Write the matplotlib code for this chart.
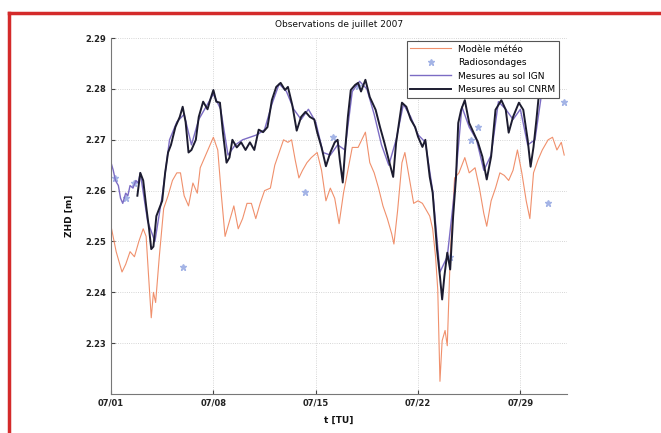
"""
Observations de juillet 2007 : ZHD modèle météo / radiosondages / mesures au sol
"""
import matplotlib
matplotlib.use('Agg')
import matplotlib.pyplot as plt
from matplotlib.lines import Line2D

plt.rcParams['font.family'] = ['DejaVu Sans']

# jours depuis le 01/07 00h TU
TICK_DAYS = [0, 7, 14, 21, 28]
TICK_LABELS = ['07/01', '07/08', '07/15', '07/22', '07/29']

# Modèle météo
model_t = [0.0, 0.35, 0.75, 1.0, 1.3, 1.6, 1.9, 2.2, 2.4, 2.55, 2.75, 2.9, 3.05, 3.3, 3.6,
           3.9, 4.2, 4.5, 4.75, 5.0, 5.3, 5.6, 5.9, 6.1, 6.4, 6.7, 7.0, 7.3, 7.55, 7.8,
           8.1, 8.4, 8.7, 9.0, 9.3, 9.6, 9.9, 10.2, 10.5, 10.9, 11.2, 11.5, 11.8, 12.1,
           12.35, 12.6, 12.85, 13.1, 13.4, 13.7, 14.1, 14.4, 14.7, 15.0, 15.3, 15.6, 15.9,
           16.2, 16.5, 16.9, 17.4, 17.7, 18.0, 18.3, 18.6, 18.9, 19.2, 19.35, 19.6, 19.9,
           20.1, 20.4, 20.7, 21.0, 21.3, 21.8, 22.0, 22.2, 22.35, 22.5, 22.65, 22.85, 23.0,
           23.2, 23.5, 23.8, 24.2, 24.5, 24.9, 25.2, 25.5, 25.7, 26.0, 26.3, 26.6, 26.9,
           27.2, 27.5, 27.8, 28.1, 28.4, 28.65, 28.9, 29.2, 29.5, 29.9, 30.2, 30.5, 30.8, 31.0]
model_zhd = [2.2530, 2.2480, 2.2440, 2.2455, 2.2480, 2.2470, 2.2500, 2.2525, 2.2510, 2.2440,
             2.2350, 2.2400, 2.2380, 2.2470, 2.2565, 2.2590, 2.2620, 2.2635, 2.2635, 2.2590,
             2.2570, 2.2615, 2.2595, 2.2645, 2.2665, 2.2685, 2.2705, 2.2680, 2.2590, 2.2510,
             2.2540, 2.2570, 2.2525, 2.2545, 2.2575, 2.2575, 2.2545, 2.2575, 2.2600, 2.2605,
             2.2650, 2.2675, 2.2700, 2.2695, 2.2700, 2.2660, 2.2625, 2.2640, 2.2655, 2.2665,
             2.2675, 2.2640, 2.2580, 2.2605, 2.2585, 2.2535, 2.2595, 2.2640, 2.2685, 2.2685,
             2.2715, 2.2655, 2.2635, 2.2605, 2.2570, 2.2545, 2.2515, 2.2495, 2.2560, 2.2655,
             2.2675, 2.2625, 2.2575, 2.2580, 2.2575, 2.2550, 2.2525, 2.2470, 2.2405, 2.2225,
             2.2305, 2.2325, 2.2295, 2.2470, 2.2625, 2.2635, 2.2665, 2.2635, 2.2645, 2.2605,
             2.2555, 2.2530, 2.2580, 2.2605, 2.2635, 2.2630, 2.2620, 2.2640, 2.2680, 2.2635,
             2.2580, 2.2545, 2.2635, 2.2660, 2.2680, 2.2700, 2.2705, 2.2680, 2.2695, 2.2670]

# Radiosondages
radio_t = [0.3, 1.0, 1.6, 4.9, 13.3, 15.2, 16.9, 23.2, 24.6, 25.1, 29.9, 31.0]
radio_zhd = [2.2625, 2.2585, 2.2615, 2.2450, 2.2598, 2.2705, 2.2805, 2.2470, 2.2700, 2.2725,
             2.2575, 2.2775]

# Mesures au sol IGN
ign_t = [0.0, 0.15, 0.3, 0.5, 0.65, 0.8, 1.0, 1.15, 1.3, 1.5, 1.7, 1.85, 2.0, 2.5, 3.0, 3.5,
         4.0, 4.5, 5.0, 5.5, 6.0, 6.5, 7.0, 7.5, 8.0, 8.5, 9.0, 9.5, 10.0, 10.5, 11.0, 11.5,
         12.0, 12.5, 13.0, 13.5, 14.0, 14.5, 15.0, 15.5, 16.0, 16.5, 17.0, 17.5, 18.0, 18.5,
         19.0, 19.5, 20.0, 20.5, 21.0, 21.5, 22.0, 22.5, 23.0, 23.5, 24.0, 24.5, 25.0, 25.5,
         26.0, 26.5, 27.0, 27.5, 28.0, 28.5, 29.0, 29.4]
ign_zhd = [2.2655, 2.2640, 2.2620, 2.2610, 2.2585, 2.2575, 2.2595, 2.2590, 2.2610, 2.2605,
           2.2620, 2.2615, 2.2635, 2.2540, 2.2500, 2.2590, 2.2700, 2.2735, 2.2750, 2.2690,
           2.2740, 2.2765, 2.2790, 2.2760, 2.2670, 2.2690, 2.2700, 2.2705, 2.2710, 2.2720,
           2.2770, 2.2810, 2.2795, 2.2760, 2.2740, 2.2760, 2.2735, 2.2675, 2.2670, 2.2690,
           2.2680, 2.2795, 2.2815, 2.2800, 2.2750, 2.2690, 2.2650, 2.2700, 2.2770, 2.2745,
           2.2710, 2.2695, 2.2600, 2.2440, 2.2470, 2.2600, 2.2765, 2.2725, 2.2700, 2.2640,
           2.2670, 2.2775, 2.2760, 2.2740, 2.2760, 2.2690, 2.2700, 2.2780]

# Mesures au sol CNRM
cnrm_t = [1.8, 2.0, 2.2, 2.4, 2.6, 2.75, 2.9, 3.1, 3.3, 3.5, 3.7, 3.9, 4.1, 4.4, 4.7, 4.9,
          5.1, 5.3, 5.5, 5.8, 6.0, 6.3, 6.6, 6.8, 7.0, 7.2, 7.45, 7.65, 7.9, 8.1, 8.3, 8.6,
          8.9, 9.2, 9.5, 9.8, 10.1, 10.4, 10.7, 11.0, 11.3, 11.6, 11.9, 12.1, 12.4, 12.7,
          13.0, 13.3, 13.6, 13.9, 14.1, 14.4, 14.7, 15.0, 15.3, 15.5, 15.65, 15.85, 16.0,
          16.2, 16.4, 16.7, 16.9, 17.1, 17.4, 17.7, 18.1, 18.4, 18.7, 19.0, 19.3, 19.5, 19.9,
          20.2, 20.5, 20.8, 21.0, 21.3, 21.5, 21.8, 22.0, 22.3, 22.5, 22.65, 22.8, 23.0, 23.2,
          23.4, 23.6, 23.75, 23.95, 24.2, 24.5, 24.8, 25.1, 25.4, 25.7, 26.0, 26.3, 26.7,
          27.0, 27.2, 27.5, 27.9, 28.2, 28.5, 28.7, 28.9, 29.1, 29.25, 29.5]
cnrm_zhd = [2.2590, 2.2635, 2.2620, 2.2570, 2.2525, 2.2485, 2.2490, 2.2550, 2.2565, 2.2580,
            2.2635, 2.2675, 2.2690, 2.2725, 2.2745, 2.2765, 2.2735, 2.2675, 2.2680, 2.2700,
            2.2745, 2.2775, 2.2760, 2.2780, 2.2798, 2.2775, 2.2773, 2.2715, 2.2655, 2.2665,
            2.2700, 2.2685, 2.2695, 2.2680, 2.2695, 2.2680, 2.2720, 2.2715, 2.2725, 2.2778,
            2.2804, 2.2812, 2.2798, 2.2804, 2.2768, 2.2718, 2.2745, 2.2755, 2.2745, 2.2740,
            2.2715, 2.2685, 2.2648, 2.2675, 2.2695, 2.2700, 2.2660, 2.2616, 2.2675, 2.2745,
            2.2798, 2.2808, 2.2812, 2.2795, 2.2818, 2.2784, 2.2759, 2.2725, 2.2694, 2.2660,
            2.2627, 2.2694, 2.2773, 2.2765, 2.2740, 2.2725, 2.2706, 2.2686, 2.2700, 2.2627,
            2.2596, 2.2484, 2.2431, 2.2386, 2.2431, 2.2478, 2.2445, 2.2549, 2.2627, 2.2733,
            2.2759, 2.2778, 2.2733, 2.2714, 2.2695, 2.2667, 2.2622, 2.2667, 2.2759, 2.2778,
            2.2759, 2.2714, 2.2745, 2.2773, 2.2759, 2.2700, 2.2647, 2.2686, 2.2740, 2.2784,
            2.2830]

C_MODEL = '#f0906c'
C_RADIO = '#a4b4e6'
C_IGN = '#7c6cc4'
C_CNRM = '#1c1c30'


def main():
    fig = plt.figure(figsize=(6.61, 4.33), dpi=100)
    ax = fig.add_axes([0.168, 0.090, 0.690, 0.822])

    ax.plot(model_t, model_zhd, color=C_MODEL, lw=0.8, label='Modèle météo')
    ax.plot(radio_t, radio_zhd, ls='none', marker='*', ms=4.5, color=C_RADIO, label='Radiosondages')
    ax.plot(ign_t, ign_zhd, color=C_IGN, lw=1.0, label='Mesures au sol IGN')
    ax.plot(cnrm_t, cnrm_zhd, color=C_CNRM, lw=1.4, label='Mesures au sol CNRM')

    ax.set_xlim(0, 31.2)
    ax.set_ylim(2.22, 2.29)
    ax.set_xticks(TICK_DAYS)
    ax.set_xticklabels(TICK_LABELS)
    ax.set_yticks([2.23, 2.24, 2.25, 2.26, 2.27, 2.28, 2.29])
    ax.set_yticklabels(['2.23', '2.24', '2.25', '2.26', '2.27', '2.28', '2.29'])
    ax.tick_params(direction='in', labelsize=6, length=3, colors='#444444', labelcolor='#222222')
    for lbl in ax.get_xticklabels() + ax.get_yticklabels():
        lbl.set_fontweight('bold')
    for s in ['top', 'right']:
        ax.spines[s].set_visible(False)
    for s in ['left', 'bottom']:
        ax.spines[s].set_color('#777777')
        ax.spines[s].set_linewidth(0.8)
    ax.grid(True, ls=':', lw=0.6, color='#c8c8c8')

    ax.set_title('Observations de juillet 2007', fontsize=6.5, pad=8, color='#111111')
    ax.set_xlabel('t [TU]', fontsize=6.5, labelpad=6, color='#111111', fontweight='bold')
    ax.set_ylabel('ZHD [m]', fontsize=6.5, labelpad=8, color='#111111', fontweight='bold')

    leg = ax.legend(loc='upper right', bbox_to_anchor=(0.982, 0.992), fontsize=6.5,
                    fancybox=False, framealpha=1, edgecolor='#555555', borderaxespad=0,
                    handlelength=4.5, labelspacing=0.5)
    leg.get_frame().set_linewidth(0.8)

    # cadre rouge (bord gauche et haut)
    fig.add_artist(Line2D([9 / 661, 9 / 661], [0, 1 - 13 / 433], color='#d42a2a', lw=2.5))
    fig.add_artist(Line2D([9 / 661, 1], [1 - 13 / 433, 1 - 13 / 433], color='#d42a2a', lw=2.5))

    fig.savefig('out.png', dpi=100)


if __name__ == '__main__':
    main()
